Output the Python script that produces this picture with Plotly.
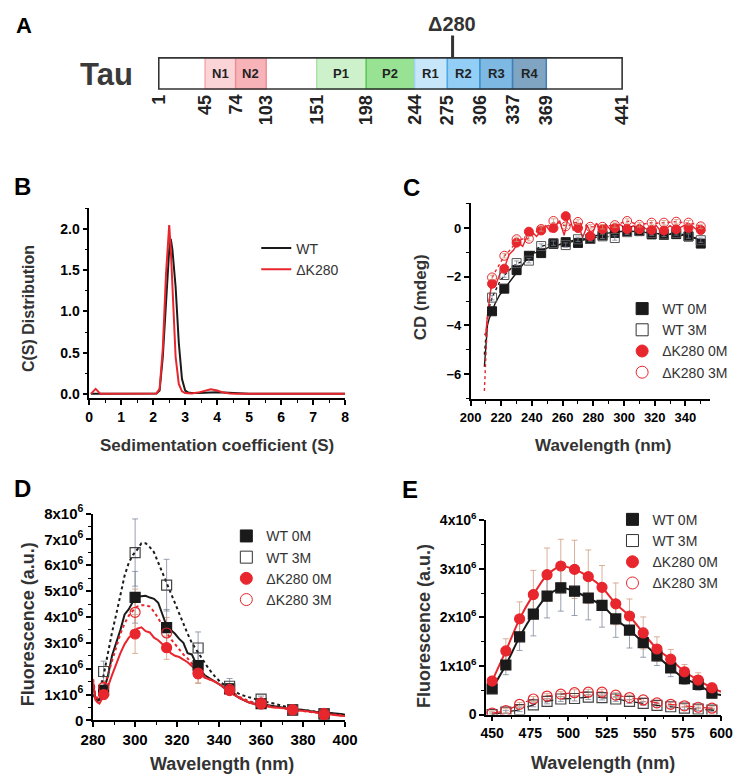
import plotly.graph_objects as go

# ---------------- Panel A: tau domain map ----------------
A_marks = [1, 45, 74, 103, 151, 198, 244, 275, 306, 337, 369, 441]
A_names = ["N1", "N2", "P1", "P2", "R1", "R2", "R3", "R4"]
A_start = [45, 74, 151, 198, 244, 275, 306, 337]
A_end = [74, 103, 198, 244, 275, 306, 337, 369]
A_fill = ["#FAD4D6", "#F7B3B7", "#CDF1CB", "#98E294", "#C8E6FA", "#92CEF6", "#7DB9E2", "#7FA5C3"]
A_edge = ["#F3A9AE", "#EE8F96", "#A8E2A5", "#5DC659", "#A3D3F3", "#4AA8E8", "#3C8FC9", "#3F7FB5"]
A_len = 441
A_del = 280

# ---------------- Panel B: sedimentation ----------------
B_s = [0.05, 0.2, 0.35, 0.5, 1.0, 1.5, 2.0, 2.1, 2.2, 2.3, 2.4, 2.45, 2.5, 2.55, 2.6, 2.7,
       2.8, 2.9, 3.0, 3.1, 3.2, 3.4, 3.6, 3.8, 4.0, 4.2, 4.4, 4.6, 5.0, 6.0, 7.0, 8.0]
B_wt = [0, 0, 0, 0, 0, 0, 0, 0.005, 0.04, 0.45, 1.1, 1.5, 1.75, 1.88, 1.75, 1.3,
        0.62, 0.18, 0.04, 0.015, 0.01, 0.01, 0.015, 0.02, 0.02, 0.015, 0.01, 0.005, 0, 0, 0, 0]
B_dk = [0, 0.06, 0, 0, 0, 0, 0, 0.005, 0.06, 0.55, 1.45, 1.8, 2.05, 1.75, 1.35, 0.45,
        0.12, 0.03, 0.01, 0.005, 0.005, 0.015, 0.035, 0.055, 0.04, 0.015, 0.005, 0, 0, 0, 0, 0]
B_names = ["WT", "ΔK280"]

# ---------------- Panel C: CD ----------------
C_line_wl = [209, 210, 211, 212, 213, 214, 216, 219, 222, 225, 228, 231, 234, 237, 240, 243, 246,
             249, 252, 255, 258, 261, 264, 267, 270, 273, 276, 279, 282, 285, 288, 291, 294, 297,
             300, 303, 306, 309, 312, 315, 318, 321, 324, 327, 330, 333, 336, 339, 342, 345, 348, 350]
C_wt0_line = [-5.7, -4.6, -4.0, -3.75, -3.6, -3.4, -3.1, -2.75, -2.5, -2.3, -2.0, -1.75, -1.5,
              -1.25, -1.05, -1.0, -1.0, -0.85, -0.75, -0.75, -0.68, -0.62, -0.6, -0.55, -0.6,
              -0.5, -0.45, -0.4, -0.3, -0.28, -0.22, -0.2, -0.2, -0.15, -0.12, -0.12, -0.15,
              -0.12, -0.15, -0.2, -0.25, -0.22, -0.25, -0.27, -0.25, -0.28, -0.3, -0.3, -0.35,
              -0.38, -0.45, -0.62]
C_wt3_line = [-5.2, -4.4, -3.7, -3.3, -3.0, -2.85, -2.6, -2.2, -1.95, -1.75, -1.55, -1.45, -1.35,
              -1.3, -1.05, -0.85, -0.75, -0.7, -0.65, -0.62, -0.65, -0.7, -0.55, -0.5, -0.46,
              -0.45, -0.45, -0.42, -0.38, -0.34, -0.32, -0.38, -0.38, -0.25, -0.18, -0.17, -0.15,
              -0.13, -0.15, -0.18, -0.21, -0.24, -0.25, -0.26, -0.23, -0.2, -0.22, -0.28, -0.33,
              -0.38, -0.42, -0.5]
C_dk0_line = [-4.4, -4.3, -3.6, -3.0, -2.6, -2.3, -2.4, -1.9, -1.65, -1.1, -0.9, -0.6, -0.75,
              -0.3, -0.15, -0.35, -0.1, 0.1, -0.15, 0.05, 0.3, -0.3, 0.55, -0.1, 0.2, -0.4, 0.1,
              -0.3, 0.2, -0.1, 0.15, -0.05, 0.0, 0.15, 0.05, -0.05, 0.1, -0.1, 0.05, -0.05, -0.08,
              0.1, -0.15, -0.05, 0.1, -0.05, 0.0, 0.1, 0.0, 0.05, -0.1, -0.08]
C_dk3_line = [-6.7, -5.0, -3.8, -3.0, -2.5, -2.05, -1.8, -1.45, -1.15, -0.95, -0.7, -0.5, -0.45,
              -0.45, -0.3, -0.15, -0.05, 0.05, 0.15, 0.25, 0.2, 0.1, 0.1, 0.2, 0.25, 0.15, 0.1,
              0.05, 0.05, 0.05, 0.08, 0.1, 0.12, 0.18, 0.25, 0.28, 0.2, 0.14, 0.16, 0.2, 0.22,
              0.2, 0.2, 0.22, 0.24, 0.26, 0.24, 0.22, 0.22, 0.18, 0.12, 0.07]
C_wl = [214, 222, 230, 238, 246, 254, 262, 270, 278, 286, 294, 302, 310, 318, 326, 334, 342, 350]
C_wt0 = [-3.42, -2.49, -1.73, -1.14, -1.03, -0.65, -0.58, -0.61, -0.45, -0.3, -0.2, -0.12,
         -0.12, -0.26, -0.28, -0.25, -0.35, -0.64]
C_wt3 = [-2.86, -1.93, -1.44, -1.34, -0.74, -0.62, -0.7, -0.46, -0.45, -0.34, -0.41, -0.17,
         -0.13, -0.21, -0.26, -0.2, -0.33, -0.5]
C_dk0 = [-2.29, -1.67, -0.6, -0.15, -0.1, 0.0, 0.49, 0.0, -0.33, -0.05, 0.0, -0.04, -0.05,
         -0.08, -0.1, -0.05, 0.0, -0.08]
C_dk3 = [-2.03, -1.14, -0.46, -0.44, -0.04, 0.29, 0.07, 0.25, 0.05, 0.05, 0.12, 0.29, 0.13,
         0.22, 0.22, 0.26, 0.22, 0.07]
C_err = 0.09

# ---------------- Panel D: intrinsic fluorescence (x10^6) ----------------
D_line_wl = [280, 281, 282, 283, 285, 287, 289, 291, 293, 295, 297, 299, 301, 303, 305, 307, 309,
             311, 313, 315, 317, 319, 321, 323, 325, 327, 329, 331, 333, 335, 338, 341, 344, 347,
             350, 354, 358, 362, 366, 370, 374, 378, 382, 386, 390, 394, 398, 400]
D_wt0_line = [1.4, 0.9, 0.75, 0.8, 1.15, 1.7, 2.5, 3.0, 3.5, 4.1, 4.3, 4.6, 4.8, 4.8, 4.82, 4.75,
              4.7, 4.55, 4.1, 3.65, 3.5, 3.35, 3.15, 3.0, 2.6, 2.55, 2.2, 2.0, 1.75, 1.65, 1.5,
              1.35, 1.15, 1.0, 0.85, 0.7, 0.62, 0.6, 0.55, 0.5, 0.42, 0.42, 0.38, 0.32, 0.3,
              0.28, 0.25, 0.22]
D_wt3_line = [1.0, 0.85, 0.8, 1.0, 1.75, 2.6, 3.4, 4.1, 4.9, 5.6, 6.1, 6.4, 6.6, 6.85, 6.85, 6.7,
              6.5, 6.1, 5.7, 5.3, 4.9, 4.5, 4.1, 3.7, 3.35, 3.0, 2.75, 2.5, 2.2, 2.0, 1.7, 1.45,
              1.3, 1.15, 1.0, 0.9, 0.8, 0.72, 0.65, 0.55, 0.48, 0.42, 0.38, 0.33, 0.28, 0.25,
              0.22, 0.2]
D_dk0_line = [1.5, 0.8, 0.7, 0.65, 0.95, 1.3, 1.75, 2.2, 2.6, 2.95, 3.2, 3.35, 3.55, 3.6, 3.45,
              3.4, 3.2, 3.1, 2.95, 2.8, 2.6, 2.5, 2.45, 2.35, 2.25, 2.1, 1.95, 1.8, 1.65, 1.6,
              1.5, 1.35, 1.15, 1.0, 0.85, 0.7, 0.6, 0.55, 0.5, 0.48, 0.42, 0.38, 0.35, 0.3,
              0.25, 0.22, 0.18, 0.17]
D_dk3_line = [1.6, 1.0, 0.85, 0.9, 1.3, 1.75, 2.3, 2.85, 3.35, 3.75, 4.05, 4.25, 4.4, 4.45,
              4.45, 4.4, 4.2, 3.95, 3.65, 3.4, 3.15, 2.95, 2.75, 2.55, 2.4, 2.2, 2.0, 1.85, 1.7,
              1.6, 1.5, 1.35, 1.2, 1.05, 0.9, 0.75, 0.65, 0.58, 0.52, 0.47, 0.42, 0.38, 0.34,
              0.3, 0.26, 0.22, 0.2, 0.18]
D_wl = [285, 300, 315, 330, 345, 360, 375, 390]
D_wt0 = [1.16, 4.76, 3.59, 2.12, 1.22, 0.65, 0.4, 0.25]
D_wt3 = [1.89, 6.49, 5.23, 2.8, 1.32, 0.82, 0.42, 0.25]
D_dk0 = [1.0, 3.34, 2.81, 1.8, 1.15, 0.63, 0.4, 0.22]
D_dk3 = [1.28, 4.18, 3.38, 1.83, 1.2, 0.68, 0.42, 0.27]
D_wt0_err = [0.3, 1.0, 0.7, 0.5, 0.2, 0.1, 0.05, 0.05]
D_wt3_err = [0.4, 1.3, 1.0, 0.62, 0.3, 0.12, 0.08, 0.06]
D_dk0_err = [0.2, 0.75, 0.45, 0.35, 0.15, 0.1, 0.05, 0.05]
D_dk3_err = [0.25, 0.9, 0.6, 0.4, 0.2, 0.1, 0.06, 0.05]
D_yticks = [0, 1, 2, 3, 4, 5, 6, 7, 8]
D_yticktext = ["0"] + ["%dx10<sup>6</sup>" % v for v in D_yticks[1:]]

# ---------------- Panel E: ANS fluorescence (x10^6) ----------------
E_wl = [450, 459, 468, 477, 486, 495, 504, 513, 522, 531, 540, 549, 558, 567, 576, 585, 594]
E_wt0 = [0.53, 1.02, 1.6, 2.07, 2.44, 2.61, 2.54, 2.4, 2.25, 1.97, 1.74, 1.48, 1.21, 0.96, 0.74, 0.62, 0.44]
E_wt3 = [0.0, 0.05, 0.1, 0.2, 0.27, 0.32, 0.33, 0.36, 0.35, 0.32, 0.27, 0.23, 0.19, 0.16, 0.13, 0.11, 0.09]
E_dk0 = [0.69, 1.31, 1.97, 2.47, 2.88, 3.06, 2.99, 2.84, 2.62, 2.28, 2.03, 1.68, 1.35, 1.14, 0.88, 0.71, 0.55]
E_dk3 = [0.03, 0.08, 0.21, 0.32, 0.38, 0.42, 0.45, 0.46, 0.46, 0.4, 0.35, 0.3, 0.24, 0.21, 0.18, 0.15, 0.13]
E_wt0_err = [0.08, 0.2, 0.28, 0.45, 0.45, 0.48, 0.5, 0.45, 0.45, 0.38, 0.37, 0.3, 0.2, 0.18, 0.12, 0.12, 0.08]
E_dk0_err = [0.1, 0.25, 0.35, 0.5, 0.55, 0.55, 0.6, 0.55, 0.45, 0.43, 0.35, 0.33, 0.25, 0.2, 0.15, 0.15, 0.1]
E_wt3_err = [0.03, 0.03, 0.04, 0.04, 0.05, 0.05, 0.05, 0.05, 0.05, 0.05, 0.04, 0.04, 0.04, 0.03, 0.03, 0.03, 0.03]
E_dk3_err = [0.03, 0.04, 0.04, 0.05, 0.05, 0.05, 0.06, 0.06, 0.06, 0.05, 0.05, 0.04, 0.04, 0.04, 0.03, 0.03, 0.03]
E_line_wl = E_wl + [600]
E_wt0_line = E_wt0 + [0.40]
E_wt3_line = E_wt3 + [0.08]
E_dk0_line = E_dk0 + [0.47]
E_dk3_line = E_dk3 + [0.10]
E_yticks = [0, 1, 2, 3, 4]
E_yticktext = ["0"] + ["%dx10<sup>6</sup>" % v for v in E_yticks[1:]]

SERIES = ["WT 0M", "WT 3M", "ΔK280 0M", "ΔK280 3M"]

# ---------------- styling ----------------
W, H = 750, 784
RED = "#E8262D"
BLK = "#1a1a1a"
FONT = "Liberation Sans, Arial, sans-serif"
NARROW = "Liberation Sans Narrow, Arial Narrow, Liberation Sans, sans-serif"
ERR_K = "rgba(120,130,150,0.75)"
ERR_R = "rgba(205,150,120,0.75)"


def fx(p):
    return p / W


def fy(p):
    return 1 - p / H


fig = go.Figure()

# ----- Panel B traces -----
fig.add_trace(go.Scatter(x=B_s, y=B_wt, mode="lines", line=dict(color=BLK, width=2),
                         name=B_names[0], xaxis="x", yaxis="y", legend="legend"))
fig.add_trace(go.Scatter(x=B_s, y=B_dk, mode="lines", line=dict(color=RED, width=2),
                         name=B_names[1], xaxis="x", yaxis="y", legend="legend"))

# ----- Panel C traces -----
for yv, col, dash in [(C_wt3_line, BLK, "dot"), (C_wt0_line, BLK, "solid"),
                      (C_dk3_line, RED, "dot"), (C_dk0_line, RED, "solid")]:
    fig.add_trace(go.Scatter(x=C_line_wl, y=yv, mode="lines", showlegend=False,
                             line=dict(color=col, width=1.4, dash=dash), xaxis="x2", yaxis="y2"))
C_specs = [(C_wt0, "square", BLK, BLK, ERR_K), (C_wt3, "square-open", "#555", "#555", ERR_K),
           (C_dk0, "circle", RED, RED, ERR_R), (C_dk3, "circle-open", RED, RED, ERR_R)]
for yv, sym, col, lc, ec in C_specs:
    fig.add_trace(go.Scatter(x=C_wl, y=yv, mode="markers", showlegend=False,
                             marker=dict(symbol=sym, size=9, color=col, line=dict(color=lc, width=1)),
                             error_y=dict(type="constant", value=C_err, width=2.5, thickness=1, color=ec),
                             xaxis="x2", yaxis="y2"))

# ----- Panel D traces -----
for yv, ev, col in [(D_wt3, D_wt3_err, ERR_K), (D_wt0, D_wt0_err, ERR_K),
                    (D_dk3, D_dk3_err, ERR_R), (D_dk0, D_dk0_err, ERR_R)]:
    fig.add_trace(go.Scatter(x=D_wl, y=yv, mode="markers", showlegend=False,
                             marker=dict(size=1, color="rgba(0,0,0,0)"),
                             error_y=dict(type="data", array=ev, width=3, thickness=1, color=col),
                             xaxis="x3", yaxis="y3"))
for yv, col, dash in [(D_wt3_line, BLK, "dot"), (D_wt0_line, BLK, "solid"),
                      (D_dk3_line, RED, "dot"), (D_dk0_line, RED, "solid")]:
    fig.add_trace(go.Scatter(x=D_line_wl, y=yv, mode="lines", showlegend=False,
                             line=dict(color=col, width=2, dash=dash), xaxis="x3", yaxis="y3"))
D_specs = [(D_wt0, "square", BLK, BLK), (D_wt3, "square-open", "#444", "#444"),
           (D_dk0, "circle", RED, RED), (D_dk3, "circle-open", RED, RED)]
for yv, sym, col, lc in D_specs:
    fig.add_trace(go.Scatter(x=D_wl, y=yv, mode="markers", showlegend=False,
                             marker=dict(symbol=sym, size=10, color=col, line=dict(color=lc, width=1.2)),
                             xaxis="x3", yaxis="y3"))

# ----- Panel E traces -----
for yv, ev, col in [(E_wt3, E_wt3_err, ERR_K), (E_dk3, E_dk3_err, ERR_R),
                    (E_wt0, E_wt0_err, ERR_K), (E_dk0, E_dk0_err, ERR_R)]:
    fig.add_trace(go.Scatter(x=E_wl, y=yv, mode="markers", showlegend=False,
                             marker=dict(size=1, color="rgba(0,0,0,0)"),
                             error_y=dict(type="data", array=ev, width=3, thickness=1, color=col),
                             xaxis="x4", yaxis="y4"))
for yv, col, dash, lw in [(E_wt3_line, BLK, "dash", 1.2), (E_dk3_line, RED, "dash", 1.2),
                          (E_wt0_line, BLK, "solid", 2), (E_dk0_line, RED, "solid", 2)]:
    fig.add_trace(go.Scatter(x=E_line_wl, y=yv, mode="lines", showlegend=False,
                             line=dict(color=col, width=lw, dash=dash, shape="spline", smoothing=0.6),
                             xaxis="x4", yaxis="y4"))
E_specs = [(E_wt3, "square-open", "#444", "#444"), (E_dk3, "circle-open", RED, RED),
           (E_wt0, "square", BLK, BLK), (E_dk0, "circle", RED, RED)]
for yv, sym, col, lc in E_specs:
    fig.add_trace(go.Scatter(x=E_wl, y=yv, mode="markers", showlegend=False,
                             marker=dict(symbol=sym, size=10, color=col, line=dict(color=lc, width=1.2)),
                             xaxis="x4", yaxis="y4"))

# ----- legend entries for C, D, E -----
LEG_SPECS = [("square", BLK, BLK), ("square-open", "#333", "#333"),
             ("circle", RED, RED), ("circle-open", RED, RED)]
for leg, xa, ya in [("legend2", "x2", "y2"), ("legend3", "x3", "y3"), ("legend4", "x4", "y4")]:
    for name, (sym, col, lc) in zip(SERIES, LEG_SPECS):
        fig.add_trace(go.Scatter(x=[None], y=[None], mode="markers", name=name, legend=leg,
                                 marker=dict(symbol=sym, size=12, color=col, line=dict(color=lc, width=1)),
                                 xaxis=xa, yaxis=ya))

# ---------------- axes ----------------
TICKFONT = dict(family=FONT, size=14, color="black", weight="bold")


def axis(domain, rng, dtick, minor_dtick, size=14, **kw):
    d = dict(domain=domain, range=rng, showline=True, linecolor="black", linewidth=1.5,
             ticks="outside", ticklen=5, tickwidth=1.5, tickcolor="black", showgrid=False,
             zeroline=False, tickfont=dict(TICKFONT, size=size), dtick=dtick, tick0=0,
             minor=dict(ticks="outside", ticklen=3, tickwidth=1.2, tickcolor="black",
                        dtick=minor_dtick, tick0=0, showgrid=False))
    d.update(kw)
    return d


layout = dict(
    width=W, height=H, margin=dict(l=0, r=0, t=0, b=0),
    paper_bgcolor="white", plot_bgcolor="white", showlegend=True,
    font=dict(family=FONT, color="#333"),
    xaxis=axis([fx(79), fx(344)], [0, 8], 1, 0.5, anchor="y"),
    yaxis=axis([fy(397), fy(202)], [-0.055, 2.255], 0.5, 0.25, size=14, anchor="x",
               tickformat=".1f"),
    xaxis2=axis([fx(474), fx(722)], [200, 356], 20, 10, size=13, anchor="y2"),
    yaxis2=axis([fy(398), fy(197)], [-7.04, 1.02], 2, 1, size=13, anchor="x2"),
    xaxis3=axis([fx(83), fx(344)], [280, 400], 20, 10, size=15, anchor="y3"),
    yaxis3=axis([fy(727), fy(515)], [0, 8], 1, 0.5, size=15, anchor="x3",
                tickmode="array", tickvals=D_yticks, ticktext=D_yticktext),
    xaxis4=axis([fx(490), fx(733.5)], [446, 600], 25, 12.5, size=14, anchor="y4"),
    yaxis4=axis([fy(721), fy(522)], [0, 4], 1, 0.5, size=14, anchor="x4",
                tickmode="array", tickvals=E_yticks, ticktext=E_yticktext),
)

# panel A axis: residue scale, px vertical scale
A_px0, A_px1 = 151, 631
A_scale = (A_px1 - A_px0) / (A_len - 1)
layout["xaxis5"] = dict(domain=[0, 1], range=[1 - A_px0 / A_scale, 1 + (W - A_px0) / A_scale],
                        visible=False, anchor="y5")
layout["yaxis5"] = dict(domain=[fy(130), 1], range=[130, 0], visible=False, anchor="x5")

LEG_BASE = dict(xanchor="left", yanchor="top", bgcolor="rgba(0,0,0,0)", borderwidth=0,
                font=dict(family=FONT, size=14, color="#333"), traceorder="normal",
                itemsizing="trace", tracegroupgap=0)
layout["legend"] = dict(LEG_BASE, x=fx(252), y=fy(227))
layout["legend2"] = dict(LEG_BASE, x=fx(631), y=fy(289))
layout["legend3"] = dict(LEG_BASE, x=fx(221), y=fy(522))
layout["legend4"] = dict(LEG_BASE, x=fx(621), y=fy(505))

fig.update_layout(**layout)

# ---------------- shapes (panel A) ----------------
shapes = []
for s, e, fc, ec in zip(A_start, A_end, A_fill, A_edge):
    shapes.append(dict(type="rect", xref="x5", yref="y5", x0=s, x1=e, y0=48, y1=80,
                       fillcolor=fc, line=dict(color=ec, width=1.5)))
shapes.append(dict(type="rect", xref="x5", yref="y5", x0=1, x1=A_len, y0=48, y1=80,
                   fillcolor="rgba(0,0,0,0)", line=dict(color="#333", width=1.6)))
shapes.append(dict(type="line", xref="x5", yref="y5", x0=A_del, x1=A_del, y0=25, y1=48,
                   line=dict(color="#333", width=3)))
fig.update_layout(shapes=shapes)

# ---------------- annotations ----------------
ann = []
CM = dict(xanchor="center", yanchor="middle", showarrow=False)
for s, e, n in zip(A_start, A_end, A_names):
    ann.append(dict(CM, x=(s + e) / 2, y=64, xref="x5", yref="y5", text="<b>%s</b>" % n,
                    font=dict(family=NARROW, size=13, color="#222")))
for m in A_marks:
    ann.append(dict(x=m, y=84, xref="x5", yref="y5", text="<b>%d</b>" % m, textangle=-90,
                    xanchor="center", yanchor="top", showarrow=False,
                    font=dict(family=FONT, size=18, color="#222")))
ann.append(dict(CM, x=A_del - 1, y=13, xref="x5", yref="y5", text="<b>Δ%d</b>" % A_del,
                font=dict(family=FONT, size=20, color="#333")))
ann.append(dict(CM, x=fx(97), y=fy(65), xref="paper", yref="paper", text="<b>Tau</b>",
                font=dict(family=FONT, size=31, color="#3a3a3a")))

# panel letters
for t, px, py, sz in [("A", 11, 15, 22), ("B", 10, 180, 24), ("C", 413, 181, 24),
                      ("D", 10, 489, 24), ("E", 411, 490, 24)]:
    ann.append(dict(CM, x=fx(px), y=fy(py), xref="paper", yref="paper", text="<b>%s</b>" % t,
                    font=dict(family=FONT, size=sz, color="black")))

# axis titles
TITLE_FONT = dict(family=FONT, color="#333")
for t, px, py, sz, ang in [
    ("C(S) Distribution", 16, 305, 16, -90),
    ("Sedimentation coefficient (<b>S</b>)", 211, 445, 17, 0),
    ("CD (mdeg)", 423, 293, 17, -90),
    ("Wavelength (nm)", 611, 445, 17, 0),
    ("Fluorescence (a.u.)", 15, 628, 18, -90),
    ("Wavelength (nm)", 216, 772, 18, 0),
    ("Fluorescence (a.u.)", 425, 630, 18, -90),
    ("Wavelength (nm)", 611, 771, 18, 0),
]:
    ann.append(dict(CM, x=fx(px), y=fy(py), xref="paper", yref="paper", text="<b>%s</b>" % t,
                    textangle=ang, font=dict(TITLE_FONT, size=sz)))

fig.update_layout(annotations=ann)

fig.write_html("out.html")
